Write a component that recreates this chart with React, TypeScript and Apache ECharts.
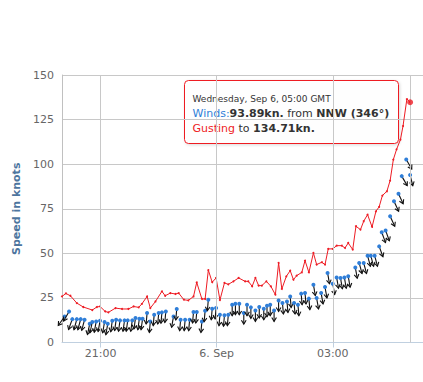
import React, { useEffect, useRef } from "react";
import * as echarts from "echarts";

// Minutes since Sep 5, 20:00 GMT
const gustMinutes = [
  0, 6, 13, 23, 33, 47, 54, 59, 67, 72,
  83, 93, 103, 111, 119, 124, 132, 137, 145, 155,
  160, 168, 176, 181, 189, 196, 204, 209, 217, 222,
  227, 233, 239, 245, 252, 258, 266, 274, 284, 289,
  295, 300, 305, 310, 317, 324, 331, 336, 341, 348,
  354, 359, 364, 372, 377, 383, 390, 395, 403, 408,
  413, 420, 426, 434, 439, 444, 451, 456, 463, 468,
  474, 481, 487, 492, 497, 504, 509, 514, 519, 525,
  529, 535, 540,
];
const gustValues = [
  25.8, 27.5, 26.2, 22.1, 19.9, 18.2, 19.9, 20.2, 17.4, 16.9,
  19.3, 18.8, 18.8, 20.2, 19.7, 21.7, 25.8, 19.3, 23, 28.7,
  26.2, 27.7, 27.2, 27.7, 24, 23.6, 25.8, 33.7, 24.4, 24.4,
  40.6, 33.8, 36.2, 23.8, 33.4, 32.6, 34.3, 36.2, 34.3, 34.3,
  31.5, 36.2, 31.9, 31.9, 34.3, 31.5, 26.8, 44.6, 30, 37.1,
  40.3, 35.2, 37.5, 39.3, 45.9, 39.3, 50.2, 43.7, 45, 43.7,
  52.5, 52.5, 54.3, 54.3, 53, 55.8, 52.1, 65.2, 63.3, 68,
  71.7, 64.8, 73.6, 76.1, 82.4, 84.8, 90.8, 102.6, 108.3, 113.8,
  121.4, 136.5, 134.71,
];

const windMinutes = [
  4, 11, 16, 23, 29, 35, 43, 47, 53, 59,
  66, 71, 78, 84, 90, 97, 102, 109, 114, 120,
  125, 132, 137, 143, 150, 155, 161, 173, 178, 184,
  191, 198, 204, 209, 217, 222, 227, 233, 239, 245,
  252, 258, 264, 269, 275, 282, 287, 293, 300, 306,
  313, 318, 323, 329, 336, 342, 349, 354, 360, 366,
  371, 377, 383, 390, 395, 402, 408, 412, 420, 426,
  432, 438, 444, 455, 461, 468, 474, 479, 485, 492,
  496, 502, 509, 515, 522, 527, 534, 540,
];
const windValues = [
  14.6, 17.4, 13.1, 13.1, 13.1, 12.8, 10.5, 11.5, 11.8, 12.2,
  11.5, 10.5, 12.2, 12.8, 12.4, 12.4, 12.4, 12.4, 13.7, 13.3,
  13.3, 16.5, 11.8, 15.6, 16.5, 16.9, 17.4, 14.6, 18.8, 12.8,
  12.8, 12.8, 17.1, 17.1, 11.8, 17.8, 24, 18.9, 19.3, 15.6,
  15.3, 15.6, 21.2, 21.7, 21.7, 16.5, 21.2, 19.7, 18, 19.9,
  18.9, 20.6, 21.2, 18, 23.6, 22.1, 23, 25.8, 22.1, 21.2,
  27.4, 27.7, 24.6, 32.4, 24.9, 27.7, 31.1, 39, 33, 36.5,
  36.2, 36.5, 37.1, 42.1, 44.6, 44.6, 48.7, 48.7, 48.7, 53.9,
  61.8, 62.8, 70.8, 79.2, 83.4, 93.3, 102.6, 93.89,
];
const windDirections = [
  35, 30, 20, 15, 15, 15, 12, 12, 10, 10,
  10, 10, 8, 8, 8, 8, 8, 8, 8, 8,
  8, 5, 5, 5, 5, 5, 5, 10, 5, 5,
  5, 5, 5, 5, 5, 5, 5, 5, 5, 5,
  5, 5, 0, 0, 0, 0, 0, 0, 0, 0,
  0, 0, 0, 0, 0, 355, 355, 355, 355, 355,
  355, 355, 355, 350, 350, 350, 350, 350, 350, 350,
  350, 350, 350, 350, 345, 345, 345, 345, 345, 340,
  340, 340, 335, 335, 335, 330, 330, 346,
];

const xTickMinutes = [60, 240, 420];
const xTickLabels = ["21:00", "6. Sep", "03:00"];
const yTicks = [0, 25, 50, 75, 100, 125, 150];
const compass = ["N", "NNE", "NE", "ENE", "E", "ESE", "SE", "SSE", "S", "SSW", "SW", "WSW", "W", "WNW", "NW", "NNW"];
const tooltipHeader = "Wednesday, Sep 6, 05:00 GMT";

const FONT = "DejaVu Sans";
const RED = "#ee1c24";
const BLUE = "#2f7ed8";

export default function App() {
  const ref = useRef<HTMLDivElement>(null);
  useEffect(() => {
    if (!ref.current) return;
    const chart = echarts.init(ref.current, undefined, { renderer: "svg" });
    const gustData = gustMinutes.map((m, i) => [m, gustValues[i]]);
    const windData = windMinutes.map((m, i) => [m, windValues[i], windDirections[i]]);
    const last = gustData.length - 1;
    const lastWind = windData.length - 1;
    const dir = windDirections[lastWind];
    const dirName = compass[Math.round(dir / 22.5) % 16];

    const option: any = {
      animation: false,
      textStyle: { fontFamily: FONT },
      grid: { left: 62, top: 75, right: 0, height: 267.5 },
      xAxis: {
        type: "value",
        min: 0,
        max: 560,
        axisLine: { show: true, lineStyle: { color: "#C0D0E0", width: 1 } },
        axisTick: { show: true, customValues: xTickMinutes, length: 5, lineStyle: { color: "#C0D0E0" } },
        axisLabel: {
          customValues: xTickMinutes,
          color: "#666",
          fontSize: 11,
          fontFamily: FONT,
          margin: 5,
          formatter: (v: number) => {
            const i = xTickMinutes.indexOf(v);
            return i >= 0 ? xTickLabels[i] : "";
          },
        },
        splitLine: { show: false },
      },
      yAxis: {
        type: "value",
        min: yTicks[0],
        max: yTicks[yTicks.length - 1],
        interval: 25,
        name: "Speed in knots",
        nameLocation: "middle",
        nameRotate: 90,
        nameGap: 37,
        nameTextStyle: { color: "#4d759e", fontWeight: "bold", fontSize: 11, fontFamily: FONT },
        axisLine: { show: true, lineStyle: { color: "#C0C0C0" } },
        axisTick: { show: false },
        axisLabel: { color: "#666", fontSize: 11, fontFamily: FONT, margin: 8 },
        splitLine: { show: true, lineStyle: { color: "#C8C8C8", width: 1 } },
      },
      series: [
        {
          type: "line",
          data: [],
          z: 1,
          silent: true,
          markLine: {
            silent: true,
            symbol: ["none", "none"],
            label: { show: false },
            lineStyle: { color: "#C8C8C8", type: "solid", width: 1 },
            data: [...xTickMinutes, gustMinutes[last]].map((v) => ({ xAxis: v })),
          },
        },
        {
          type: "line",
          name: "Gusting",
          data: gustData,
          z: 3,
          showSymbol: true,
          symbol: "circle",
          symbolSize: 2,
          lineStyle: { color: RED, width: 1 },
          itemStyle: { color: RED },
        },
        {
          type: "custom",
          name: "Winds",
          data: windData,
          z: 4,
          renderItem: (params: any, api: any) => {
            const p = api.coord([api.value(0), api.value(1)]);
            const d = ((api.value(2) + 180) * Math.PI) / 180;
            const dx = Math.sin(d);
            const dy = -Math.cos(d);
            const L = 11;
            const ex = p[0] + dx * L;
            const ey = p[1] + dy * L;
            const h = 4.5;
            const a = 0.55;
            const bx = -dx, by = -dy;
            const h1 = [ex + h * (bx * Math.cos(a) - by * Math.sin(a)), ey + h * (bx * Math.sin(a) + by * Math.cos(a))];
            const h2 = [ex + h * (bx * Math.cos(-a) - by * Math.sin(-a)), ey + h * (bx * Math.sin(-a) + by * Math.cos(-a))];
            return {
              type: "group",
              children: [
                { type: "line", shape: { x1: p[0], y1: p[1], x2: ex, y2: ey }, style: { stroke: "#111", lineWidth: 1.1 } },
                { type: "polyline", shape: { points: [h1, [ex, ey], h2] }, style: { stroke: "#111", lineWidth: 1.1, fill: "none" } },
                { type: "circle", shape: { cx: p[0], cy: p[1], r: 2 }, style: { fill: BLUE } },
              ],
            };
          },
        },
        {
          type: "scatter",
          data: [gustData[last]],
          z: 5,
          symbol: "circle",
          symbolSize: 6,
          itemStyle: { color: RED },
        },
      ],
      graphic: [
        {
          type: "group",
          left: 184,
          top: 80,
          children: [
            {
              type: "rect",
              shape: { x: 0, y: 0, width: 214, height: 63, r: 4 },
              style: {
                fill: "rgba(255,255,255,0.95)",
                stroke: RED,
                lineWidth: 1,
                shadowBlur: 3,
                shadowOffsetX: 1,
                shadowOffsetY: 1,
                shadowColor: "rgba(0,0,0,0.15)",
              },
            },
            {
              type: "text",
              x: 8,
              y: 18,
              style: { text: tooltipHeader, fontSize: 9, fontFamily: FONT, fill: "#333", verticalAlign: "middle" },
            },
            {
              type: "text",
              x: 8,
              y: 33,
              style: {
                text: `{b|Winds:}{v|${windValues[lastWind]}kn.}{n| from }{v|${dirName} (${dir}°)}`,
                verticalAlign: "middle",
                rich: {
                  b: { fill: BLUE, fontSize: 11, fontFamily: FONT },
                  v: { fill: "#333", fontSize: 11, fontFamily: FONT, fontWeight: "bold" },
                  n: { fill: "#333", fontSize: 11, fontFamily: FONT },
                },
              },
            },
            {
              type: "text",
              x: 8,
              y: 48,
              style: {
                text: `{r|Gusting}{n| to }{v|${gustValues[last]}kn.}`,
                verticalAlign: "middle",
                rich: {
                  r: { fill: RED, fontSize: 11, fontFamily: FONT },
                  v: { fill: "#333", fontSize: 11, fontFamily: FONT, fontWeight: "bold" },
                  n: { fill: "#333", fontSize: 11, fontFamily: FONT },
                },
              },
            },
          ],
        },
      ],
    };
    chart.setOption(option);
    return () => chart.dispose();
  }, []);
  return <div ref={ref} style={{ position: "absolute", left: 0, top: 0, width: 423, height: 382 }} />;
}
